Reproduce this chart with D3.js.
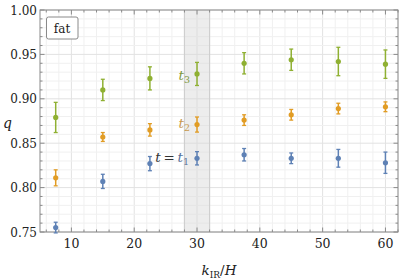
<!DOCTYPE html>
<html>
<head>
<meta charset="utf-8">
<script src="https://cdn.jsdelivr.net/npm/d3@7"></script>
<style>
  body { margin: 0; background: #fff; }
</style>
</head>
<body>
<div id="chart"></div>
<script>
var width = 399;
var height = 280;

// data
var kValues = [7.5, 15, 22.5, 30, 37.5, 45, 52.5, 60];
var q_t1 = [0.755, 0.807, 0.827, 0.833, 0.837, 0.833, 0.833, 0.828];
var err_t1 = [0.006, 0.008, 0.008, 0.0075, 0.007, 0.006, 0.010, 0.012];
var q_t2 = [0.811, 0.857, 0.865, 0.871, 0.876, 0.882, 0.889, 0.891];
var err_t2 = [0.009, 0.005, 0.007, 0.0085, 0.006, 0.006, 0.006, 0.0055];
var q_t3 = [0.879, 0.910, 0.923, 0.928, 0.940, 0.944, 0.942, 0.939];
var err_t3 = [0.017, 0.012, 0.013, 0.013, 0.012, 0.012, 0.016, 0.016];
var band = [28, 32];
var xTicks = [10, 20, 30, 40, 50, 60];
var yTicks = [0.75, 0.80, 0.85, 0.90, 0.95, 1.00];

var blue = '#5e81b5', orange = '#e19c24', green = '#8fb032';
var serif = "'DejaVu Serif', 'Liberation Serif', serif";

var svg = d3.select('#chart').append('svg')
    .attr('width', width).attr('height', height)
    .style('font-family', serif);

var x = d3.scaleLinear().domain([5, 62]).range([40, 398]);
var y = d3.scaleLinear().domain([0.75, 1.0]).range([232, 10]);

var xMinor = d3.range(6, 62.1, 2);
var yMinor = d3.range(75, 100.1, 1).map(function(d){ return d / 100; });

// grid
var grid = svg.append('g');
grid.selectAll('.vg').data(xMinor).enter().append('line')
    .attr('x1', function(d){ return x(d); }).attr('x2', function(d){ return x(d); })
    .attr('y1', y(1)).attr('y2', y(0.75))
    .attr('stroke', function(d){ return d % 10 == 0 ? '#e2e2e2' : '#f0f0f0'; })
    .attr('stroke-width', 1);
grid.selectAll('.hg').data(yMinor).enter().append('line')
    .attr('x1', x(5)).attr('x2', x(62))
    .attr('y1', function(d){ return y(d); }).attr('y2', function(d){ return y(d); })
    .attr('stroke', function(d){ return Math.round(d * 100) % 5 == 0 ? '#e2e2e2' : '#f0f0f0'; })
    .attr('stroke-width', 1);

// shaded band
svg.append('rect')
    .attr('x', x(band[0])).attr('y', y(1))
    .attr('width', x(band[1]) - x(band[0])).attr('height', y(0.75) - y(1))
    .attr('fill', '#d8d8d8').attr('fill-opacity', 0.45);
svg.selectAll('.bandedge').data(band).enter().append('line')
    .attr('x1', function(d){ return x(d); }).attr('x2', function(d){ return x(d); })
    .attr('y1', y(1)).attr('y2', y(0.75))
    .attr('stroke', '#cfcfcf').attr('stroke-width', 1.2);

// frame and ticks
var frame = svg.append('g');
frame.append('rect')
    .attr('x', x(5)).attr('y', y(1))
    .attr('width', x(62) - x(5)).attr('height', y(0.75) - y(1))
    .attr('fill', 'none').attr('stroke', '#8a8a8a').attr('stroke-width', 1);

function tickLen(major){ return major ? 4.5 : 2.5; }

xMinor.forEach(function(d){
    var L = tickLen(d % 10 == 0);
    frame.append('line').attr('x1', x(d)).attr('x2', x(d))
        .attr('y1', y(0.75)).attr('y2', y(0.75) - L).attr('stroke', '#8a8a8a');
    frame.append('line').attr('x1', x(d)).attr('x2', x(d))
        .attr('y1', y(1)).attr('y2', y(1) + L).attr('stroke', '#8a8a8a');
});
yMinor.forEach(function(d){
    var L = tickLen(Math.round(d * 100) % 5 == 0);
    frame.append('line').attr('x1', x(5)).attr('x2', x(5) + L)
        .attr('y1', y(d)).attr('y2', y(d)).attr('stroke', '#8a8a8a');
    frame.append('line').attr('x1', x(62)).attr('x2', x(62) - L)
        .attr('y1', y(d)).attr('y2', y(d)).attr('stroke', '#8a8a8a');
});

frame.selectAll('.xl').data(xTicks).enter().append('text')
    .attr('x', function(d){ return x(d); }).attr('y', 248)
    .attr('text-anchor', 'middle').attr('font-size', 12.5).attr('fill', '#222')
    .text(function(d){ return d; });
frame.selectAll('.yl').data(yTicks).enter().append('text')
    .attr('x', 37).attr('y', function(d){ return y(d) + 4.5; })
    .attr('text-anchor', 'end').attr('font-size', 12).attr('fill', '#222')
    .text(function(d){ return d.toFixed(2); });

// axis labels
svg.append('text').attr('x', 3).attr('y', 128)
    .attr('font-size', 14).attr('font-style', 'italic').attr('fill', '#222').text('q');
var xl = svg.append('text').attr('x', 219).attr('y', 275)
    .attr('text-anchor', 'middle').attr('font-size', 13.5).attr('fill', '#222');
xl.append('tspan').attr('font-style', 'italic').text('k');
xl.append('tspan').attr('font-size', 9).attr('dy', 3).text('IR');
xl.append('tspan').attr('dy', -3).text('/');
xl.append('tspan').attr('font-style', 'italic').text('H');

// legend box
svg.append('rect').attr('x', 46.5).attr('y', 17).attr('width', 31.5).attr('height', 22)
    .attr('rx', 2).attr('fill', '#fff').attr('stroke', '#8a8a8a').attr('stroke-width', 1);
svg.append('text').attr('x', 62).attr('y', 32.5).attr('text-anchor', 'middle')
    .attr('font-size', 12).attr('fill', '#222').text('fat');

// series with error bars
var series = [
    { q: q_t1, e: err_t1, c: blue },
    { q: q_t2, e: err_t2, c: orange },
    { q: q_t3, e: err_t3, c: green }
];

series.forEach(function(s){
    var g = svg.append('g');
    var pts = kValues.map(function(k, i){ return { k: k, q: s.q[i], e: s.e[i] }; });
    g.selectAll('.bar').data(pts).enter().append('line')
        .attr('x1', function(d){ return x(d.k); }).attr('x2', function(d){ return x(d.k); })
        .attr('y1', function(d){ return y(d.q + d.e); }).attr('y2', function(d){ return y(d.q - d.e); })
        .attr('stroke', s.c).attr('stroke-width', 1.5);
    g.selectAll('.capt').data(pts).enter().append('line')
        .attr('x1', function(d){ return x(d.k) - 2; }).attr('x2', function(d){ return x(d.k) + 2; })
        .attr('y1', function(d){ return y(d.q + d.e); }).attr('y2', function(d){ return y(d.q + d.e); })
        .attr('stroke', s.c).attr('stroke-width', 1.3);
    g.selectAll('.capb').data(pts).enter().append('line')
        .attr('x1', function(d){ return x(d.k) - 2; }).attr('x2', function(d){ return x(d.k) + 2; })
        .attr('y1', function(d){ return y(d.q - d.e); }).attr('y2', function(d){ return y(d.q - d.e); })
        .attr('stroke', s.c).attr('stroke-width', 1.3);
    g.selectAll('circle').data(pts).enter().append('circle')
        .attr('cx', function(d){ return x(d.k); }).attr('cy', function(d){ return y(d.q); })
        .attr('r', 2.6).attr('fill', s.c);
});

// curve labels
function label(xp, yp, pre, sub, preColor, tColor){
    var t = svg.append('text').attr('x', xp).attr('y', yp)
        .attr('text-anchor', 'end').attr('font-size', 13.5);
    if (pre) {
        t.append('tspan').attr('font-style', 'italic').attr('fill', preColor).text('t');
        t.append('tspan').attr('fill', preColor).text('\u2009=\u2009');
    }
    t.append('tspan').attr('font-style', 'italic').attr('fill', tColor).text('t');
    t.append('tspan').attr('font-size', 9.5).attr('dy', 3).attr('fill', tColor).text(sub);
}
label(190, 80, false, '3', null, '#7f9a3e');
label(190, 128, false, '2', null, '#c99a4e');
label(189, 162, true, '1', '#333', '#58719a');
</script>
</body>
</html>
